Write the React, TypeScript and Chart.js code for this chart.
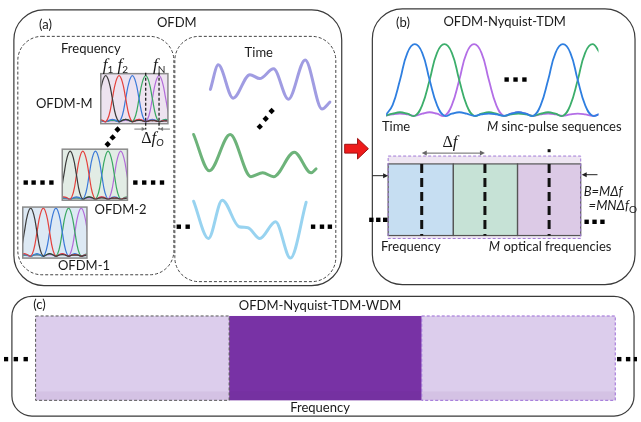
import React, { useEffect, useRef } from "react";
import { Chart, registerables } from "chart.js";
Chart.register(...registerables);

const CANVAS_W = 641;
const CANVAS_H = 422;

// ---------- Panel (a), time domain: waveform key points (figure units) ----------
const purpleWaveX = [209, 217, 232, 249, 259, 273, 288, 305, 322, 330];
const purpleWaveY = [87, 62, 96, 72, 76, 66, 97, 57, 107, 100];
const greenWaveX = [192, 208, 229, 250, 262, 273, 294, 311, 316];
const greenWaveY = [133, 170, 133, 176, 172, 176, 151, 172, 168];
const cyanWaveX = [192, 207, 221, 238, 247, 259, 275, 290, 306];
const cyanWaveY = [201, 239, 200, 227, 228, 239, 222, 259, 202];

// ---------- Panel (a), frequency domain: sub-carrier levels on a quarter-spacing grid ----------
const specBlack = [0, 0.14, 0.5, 0.86, 1, 0.86, 0.5, 0.14, 0, 0.03, 0.05, 0.03, 0, 0.02, 0.03, 0.02, 0, 0.02, 0.02, 0.02, 0, 0.01, 0.02, 0.01, 0];
const specRed = [0, 0.03, 0.05, 0.03, 0, 0.14, 0.5, 0.86, 1, 0.86, 0.5, 0.14, 0, 0.03, 0.05, 0.03, 0, 0.02, 0.03, 0.02, 0, 0.02, 0.02, 0.02, 0];
const specBlue = [0, 0.02, 0.03, 0.02, 0, 0.03, 0.05, 0.03, 0, 0.14, 0.5, 0.86, 1, 0.86, 0.5, 0.14, 0, 0.03, 0.05, 0.03, 0, 0.02, 0.03, 0.02, 0];
const specGreen = [0, 0.02, 0.02, 0.02, 0, 0.02, 0.03, 0.02, 0, 0.03, 0.05, 0.03, 0, 0.14, 0.5, 0.86, 1, 0.86, 0.5, 0.14, 0, 0.03, 0.05, 0.03, 0];
const specPurple = [0, 0.01, 0.02, 0.01, 0, 0.02, 0.02, 0.02, 0, 0.02, 0.03, 0.02, 0, 0.03, 0.05, 0.03, 0, 0.14, 0.5, 0.86, 1, 0.86, 0.5, 0.14, 0];
const specColors = ["#3b3b3b", "#e4413c", "#3b79d8", "#3aa862", "#b26bd9"];

// spectrum boxes: OFDM-M, OFDM-2, OFDM-1
const specBoxX0 = [98, 59, 19];
const specBoxY0 = [71, 148, 207];
const specBoxX1 = [166, 125, 84];
const specBoxY1 = [122, 200, 259];
const specFirstPeak = [103, 67, 27];
const specSpacing = [13.5, 12.8, 12.8];
const specBaseline = [120, 199, 257];
const specPeakY = [73, 150, 208];
const specFill = ["#ede3f0", "#e2ece5", "#dde9f4"];

// ---------- Panel (b): sinc-pulse sequences, levels on a grid of T/4 steps ----------
const pulseGridX0 = 386;
const pulseGridStep = 7.5;
const pulseBaseline = 114;
const pulseHeight = 73;
const pulseBlue = [0, 0.15, 0.5, 0.88, 1, 0.88, 0.5, 0.15, 0, 0.03, 0.05, 0.03, 0, 0.02, 0.03, 0.02, 0, 0.03, 0.05, 0.03, 0, 0.15, 0.5, 0.88, 1, 0.88, 0.5, 0.15, 0, 0.03];
const pulseGreen = [0, 0.03, 0.05, 0.03, 0, 0.15, 0.5, 0.88, 1, 0.88, 0.5, 0.15, 0, 0.03, 0.05, 0.03, 0, 0.02, 0.03, 0.02, 0, 0.03, 0.05, 0.03, 0, 0.15, 0.5, 0.88, 1, 0.88];
const pulsePurple = [0, 0.02, 0.03, 0.02, 0, 0.03, 0.05, 0.03, 0, 0.15, 0.5, 0.88, 1, 0.88, 0.5, 0.15, 0, 0.03, 0.05, 0.03, 0, 0.02, 0.03, 0.02, 0, 0.02, 0.03, 0.02, 0, 0.02];
const pulseColors = ["#2f7fe0", "#3cae6b", "#b36ee6"];
const pulseClipX = [387, 602];

// ---------- dots ----------
const squareDotX = [22, 30, 39, 48, 133, 142, 151, 160, 177, 186, 313, 322, 330, 509, 518, 527, 372, 379, 386, 590, 598, 606, 2, 12, 22, 623, 632, 640];
const squareDotY = [182, 182, 182, 182, 182, 182, 182, 182, 227, 227, 227, 227, 227, 77, 77, 77, 220, 220, 220, 222, 222, 222, 362, 362, 362, 362, 362, 362];
const diamondDotX = [105, 110, 115, 259, 265, 271];
const diamondDotY = [143, 136, 128, 125, 117, 109];

// ---------- frames ----------
const frameX0 = [10, 373, 8];
const frameY0 = [6, 5, 298];
const frameX1 = [342, 639, 638];
const frameY1 = [287, 286, 420];
const frameR = [30, 30, 20];
const dashFrameX0 = [14, 173];
const dashFrameY0 = [33, 33];
const dashFrameX1 = [172, 336];
const dashFrameY1 = [276, 283];

// panel (b) optical-frequency blocks
const tdmEdges = [389, 455, 520, 584];
const tdmFill = ["#c6def2", "#c6e2d6", "#dccae6"];
const tdmBoxY = [163, 236];
const tdmOuterY = [155, 239];
const tdmCarrierX = [423, 487, 552];

// panel (c) WDM blocks
const wdmEdges = [32, 228, 423, 619];
const wdmFill = ["#dccdec", "#7832a5", "#dccdec"];
const wdmY = [318, 404];

// red arrow outline
const redArrowX = [345, 358, 358, 369, 358, 358, 345];
const redArrowY = [143, 143, 137, 147.5, 158, 152, 152];

// ---------- labels ----------
const labelText = ["(a)", "OFDM", "Frequency", "Time", "OFDM-M", "OFDM-2", "OFDM-1", "(b)", "OFDM-Nyquist-TDM", "Time", "Frequency", "(c)", "OFDM-Nyquist-TDM-WDM", "Frequency"];
const labelX = [42, 175, 88, 258, 61, 118, 81, 404, 507, 397, 412, 36, 320, 320];
const labelY = [21, 19, 46, 50, 102, 210, 267, 19, 18, 125, 248, 307, 308, 412];

const SANS = "13px Lato";
const SANS_I = "italic 13px Lato";
const SERIF_I = "italic 17px 'Liberation Serif'";
const SUB = "10px Lato";
const SUB_I = "italic 10px Lato";
type Run = { t: string; font: string; dy?: number };
const richLabels: { x: number; y: number; runs: Run[] }[] = [
  { x: 100, y: 63, runs: [{ t: "f", font: SERIF_I }, { t: "1", font: SUB, dy: 4 }] },
  { x: 115, y: 63, runs: [{ t: "f", font: SERIF_I }, { t: "2", font: SUB, dy: 4 }] },
  { x: 151, y: 63, runs: [{ t: "f", font: SERIF_I }, { t: "N", font: SUB, dy: 4 }] },
  { x: 139, y: 137, runs: [{ t: "Δ", font: "16px 'Liberation Serif'" }, { t: "f", font: SERIF_I }, { t: "O", font: SUB_I, dy: 4 }] },
  { x: 444, y: 141, runs: [{ t: "Δ", font: "16px 'Liberation Serif'" }, { t: "f", font: SERIF_I }] },
  { x: 489, y: 125, runs: [{ t: "M", font: SANS_I }, { t: " sinc-pulse sequences", font: SANS }] },
  { x: 491, y: 248, runs: [{ t: "M", font: SANS_I }, { t: " optical frequencies", font: SANS }] },
  { x: 587, y: 191, runs: [{ t: "B=MΔf", font: SANS_I }] },
  { x: 592, y: 206, runs: [{ t: "=MNΔf", font: SANS_I }, { t: "O", font: SUB, dy: 4 }] },
];

function drawArrow(ctx: CanvasRenderingContext2D, x0: number, y0: number, x1: number, y1: number, head: number, color: string, width: number) {
  const a = Math.atan2(y1 - y0, x1 - x0);
  ctx.save();
  ctx.strokeStyle = color;
  ctx.fillStyle = color;
  ctx.lineWidth = width;
  ctx.beginPath();
  ctx.moveTo(x0, y0);
  ctx.lineTo(x1 - Math.cos(a) * head * 0.8, y1 - Math.sin(a) * head * 0.8);
  ctx.stroke();
  ctx.beginPath();
  ctx.moveTo(x1, y1);
  ctx.lineTo(x1 - head * Math.cos(a) + head * 0.5 * Math.sin(a), y1 - head * Math.sin(a) - head * 0.5 * Math.cos(a));
  ctx.lineTo(x1 - head * Math.cos(a) - head * 0.5 * Math.sin(a), y1 - head * Math.sin(a) + head * 0.5 * Math.cos(a));
  ctx.closePath();
  ctx.fill();
  ctx.restore();
}

const diagramPlugin = {
  id: "diagram",
  beforeDraw(chart: any) {
    const ctx = chart.ctx;
    ctx.save();
    ctx.fillStyle = "#ffffff";
    ctx.fillRect(0, 0, chart.width, chart.height);
    ctx.restore();
  },
  beforeDatasetsDraw(chart: any) {
    const ctx: CanvasRenderingContext2D = chart.ctx;
    const X = (v: number) => chart.scales.x.getPixelForValue(v);
    const Y = (v: number) => chart.scales.y.getPixelForValue(v);
    ctx.save();
    // solid panel frames
    ctx.strokeStyle = "#3a3a3a";
    ctx.lineWidth = 1.2;
    for (let i = 0; i < frameX0.length; i++) {
      ctx.beginPath();
      ctx.roundRect(X(frameX0[i]), Y(frameY0[i]), X(frameX1[i]) - X(frameX0[i]), Y(frameY1[i]) - Y(frameY0[i]), frameR[i]);
      ctx.stroke();
    }
    // dashed sub-frames in (a)
    ctx.setLineDash([3, 2]);
    ctx.lineWidth = 1;
    ctx.strokeStyle = "#444";
    for (let i = 0; i < dashFrameX0.length; i++) {
      ctx.beginPath();
      ctx.roundRect(X(dashFrameX0[i]), Y(dashFrameY0[i]), X(dashFrameX1[i]) - X(dashFrameX0[i]), Y(dashFrameY1[i]) - Y(dashFrameY0[i]), 24);
      ctx.stroke();
    }
    ctx.setLineDash([]);
    // spectrum box fills
    for (let b = 0; b < specBoxX0.length; b++) {
      ctx.fillStyle = specFill[b];
      ctx.fillRect(X(specBoxX0[b]), Y(specBoxY0[b]), X(specBoxX1[b]) - X(specBoxX0[b]), Y(specBoxY1[b]) - Y(specBoxY0[b]));
    }
    // panel (b) blocks
    const ox0 = X(tdmEdges[0]), ox1 = X(tdmEdges[3]);
    ctx.fillStyle = "#eee6f2";
    ctx.fillRect(ox0, Y(tdmOuterY[0]), ox1 - ox0, Y(tdmOuterY[1]) - Y(tdmOuterY[0]));
    for (let i = 0; i < 3; i++) {
      ctx.fillStyle = tdmFill[i];
      ctx.fillRect(X(tdmEdges[i]), Y(tdmBoxY[0]), X(tdmEdges[i + 1]) - X(tdmEdges[i]), Y(tdmBoxY[1]) - Y(tdmBoxY[0]));
    }
    ctx.strokeStyle = "#555";
    ctx.lineWidth = 1.2;
    for (let i = 0; i < 3; i++) {
      ctx.strokeRect(X(tdmEdges[i]), Y(tdmBoxY[0]), X(tdmEdges[i + 1]) - X(tdmEdges[i]), Y(tdmBoxY[1]) - Y(tdmBoxY[0]));
    }
    ctx.setLineDash([3, 2]);
    ctx.strokeStyle = "#a27ad8";
    ctx.lineWidth = 1;
    ctx.strokeRect(ox0, Y(tdmOuterY[0]), ox1 - ox0, Y(tdmOuterY[1]) - Y(tdmOuterY[0]));
    ctx.setLineDash([]);
    // panel (c) blocks
    for (let i = 0; i < 3; i++) {
      ctx.fillStyle = wdmFill[i];
      ctx.fillRect(X(wdmEdges[i]), Y(wdmY[0]), X(wdmEdges[i + 1]) - X(wdmEdges[i]), Y(wdmY[1]) - Y(wdmY[0]));
    }
    ctx.fillStyle = "rgba(80,30,110,0.06)";
    ctx.fillRect(X(wdmEdges[0]), Y(395), X(wdmEdges[3]) - X(wdmEdges[0]), Y(wdmY[1]) - Y(395));
    ctx.setLineDash([3, 2]);
    ctx.lineWidth = 1;
    ctx.strokeStyle = "#555";
    ctx.strokeRect(X(wdmEdges[0]), Y(wdmY[0]), X(wdmEdges[1]) - X(wdmEdges[0]), Y(wdmY[1]) - Y(wdmY[0]));
    ctx.strokeStyle = "#9b6bd6";
    ctx.strokeRect(X(wdmEdges[2]), Y(wdmY[0]), X(wdmEdges[3]) - X(wdmEdges[2]), Y(wdmY[1]) - Y(wdmY[0]));
    ctx.setLineDash([]);
    // red arrow
    ctx.beginPath();
    for (let i = 0; i < redArrowX.length; i++) {
      if (i === 0) ctx.moveTo(X(redArrowX[i]), Y(redArrowY[i]));
      else ctx.lineTo(X(redArrowX[i]), Y(redArrowY[i]));
    }
    ctx.closePath();
    ctx.fillStyle = "#ee1b1b";
    ctx.fill();
    ctx.strokeStyle = "#a01010";
    ctx.lineWidth = 1;
    ctx.stroke();
    ctx.restore();
  },
  beforeDatasetDraw(chart: any, args: any) {
    const ds = chart.data.datasets[args.index];
    if (ds && ds.clipBox) {
      const X = (v: number) => chart.scales.x.getPixelForValue(v);
      const Y = (v: number) => chart.scales.y.getPixelForValue(v);
      const [x0, y0, x1, y1] = ds.clipBox;
      chart.ctx.save();
      chart.ctx.beginPath();
      chart.ctx.rect(X(x0), Y(y0), X(x1) - X(x0), Y(y1) - Y(y0));
      chart.ctx.clip();
    }
  },
  afterDatasetDraw(chart: any, args: any) {
    const ds = chart.data.datasets[args.index];
    if (ds && ds.clipBox) chart.ctx.restore();
  },
  afterDatasetsDraw(chart: any) {
    const ctx: CanvasRenderingContext2D = chart.ctx;
    const X = (v: number) => chart.scales.x.getPixelForValue(v);
    const Y = (v: number) => chart.scales.y.getPixelForValue(v);
    ctx.save();
    // spectrum box borders
    ctx.strokeStyle = "#8a8a8a";
    ctx.lineWidth = 1.5;
    for (let b = 0; b < specBoxX0.length; b++) {
      ctx.strokeRect(X(specBoxX0[b]), Y(specBoxY0[b]), X(specBoxX1[b]) - X(specBoxX0[b]), Y(specBoxY1[b]) - Y(specBoxY0[b]));
    }
    // dashed markers in OFDM-M box
    ctx.setLineDash([3, 2]);
    ctx.strokeStyle = "#111";
    ctx.lineWidth = 1.2;
    const mk = [specFirstPeak[0] + 3 * specSpacing[0], specFirstPeak[0] + 4 * specSpacing[0]];
    for (const m of mk) {
      ctx.beginPath();
      ctx.moveTo(X(m), Y(70));
      ctx.lineTo(X(m), Y(128));
      ctx.stroke();
    }
    ctx.setLineDash([]);
    drawArrow(ctx, X(132), Y(127.5), X(mk[0]), Y(127.5), 4, "#777", 1);
    drawArrow(ctx, X(168), Y(127.5), X(mk[1]), Y(127.5), 4, "#777", 1);
    // thick dashed carriers in (b)
    ctx.setLineDash([9, 5]);
    ctx.strokeStyle = "#111";
    ctx.lineWidth = 3;
    for (const c of tdmCarrierX) {
      ctx.beginPath();
      ctx.moveTo(X(c), Y(163));
      ctx.lineTo(X(c), Y(236));
      ctx.stroke();
    }
    ctx.setLineDash([]);
    ctx.fillStyle = "#111";
    ctx.fillRect(X(tdmCarrierX[2]) - 1.5, Y(148), 3, 3);
    // Δf arrow
    drawArrow(ctx, X(455), Y(152), X(tdmCarrierX[0]), Y(152), 5, "#666", 1);
    drawArrow(ctx, X(455), Y(152), X(tdmCarrierX[1]), Y(152), 5, "#666", 1);
    // side arrows (b)
    drawArrow(ctx, X(373), Y(175), X(389), Y(175), 5, "#222", 1);
    drawArrow(ctx, X(601), Y(174), X(585), Y(174), 5, "#222", 1);
    // labels
    ctx.fillStyle = "#1a1a1a";
    ctx.textBaseline = "middle";
    ctx.textAlign = "center";
    ctx.font = SANS;
    for (let i = 0; i < labelText.length; i++) {
      ctx.fillText(labelText[i], X(labelX[i]), Y(labelY[i]));
    }
    ctx.textAlign = "left";
    for (const lab of richLabels) {
      let cx = X(lab.x);
      for (const r of lab.runs) {
        ctx.font = r.font;
        ctx.fillText(r.t, cx, Y(lab.y + (r.dy || 0)));
        cx += ctx.measureText(r.t).width;
      }
    }
    ctx.restore();
  },
};

export default function App() {
  const ref = useRef<HTMLCanvasElement>(null);
  useEffect(() => {
    const canvas = ref.current;
    if (!canvas) return;
    const lineCommon = {
      showLine: true,
      pointRadius: 0,
      pointHoverRadius: 0,
      fill: false,
      cubicInterpolationMode: "monotone",
      borderCapStyle: "round",
      borderJoinStyle: "round",
    };
    const smoothCommon = { ...lineCommon, cubicInterpolationMode: "default", tension: 0.45 };
    const pts = (xs: number[], ys: number[]) => xs.map((x, i) => ({ x, y: ys[i] }));
    const datasets: any[] = [];
    // square dots
    datasets.push({
      data: pts(squareDotX, squareDotY),
      showLine: false,
      pointStyle: "rect",
      pointRadius: 3.1,
      pointBackgroundColor: "#000",
      pointBorderWidth: 0,
    });
    datasets.push({
      data: pts(diamondDotX, diamondDotY),
      showLine: false,
      pointStyle: "rectRot",
      pointRadius: 3.2,
      pointBackgroundColor: "#000",
      pointBorderWidth: 0,
    });
    // time-domain waves
    datasets.push({ ...lineCommon, data: pts(purpleWaveX, purpleWaveY), borderColor: "#a09ce2", borderWidth: 3 });
    datasets.push({ ...lineCommon, data: pts(greenWaveX, greenWaveY), borderColor: "#6db37a", borderWidth: 3 });
    datasets.push({ ...lineCommon, data: pts(cyanWaveX, cyanWaveY), borderColor: "#98d3f0", borderWidth: 3 });
    // spectra
    const specLevels = [specBlack, specRed, specBlue, specGreen, specPurple];
    for (let b = 0; b < specBoxX0.length; b++) {
      const h = specBaseline[b] - specPeakY[b];
      specLevels.forEach((lv, c) => {
        datasets.push({
          ...smoothCommon,
          data: lv.map((v, i) => ({ x: specFirstPeak[b] + ((i - 4) * specSpacing[b]) / 4, y: specBaseline[b] - v * h })),
          borderColor: specColors[c],
          borderWidth: 1.2,
          clipBox: [specBoxX0[b], specBoxY0[b], specBoxX1[b], specBoxY1[b]],
        });
      });
    }
    // sinc pulses
    [pulseBlue, pulseGreen, pulsePurple].forEach((lv, c) => {
      datasets.push({
        ...smoothCommon,
        data: lv.map((v, i) => ({ x: pulseGridX0 + i * pulseGridStep, y: pulseBaseline - v * pulseHeight })),
        borderColor: pulseColors[c],
        borderWidth: 1.8,
        clipBox: [pulseClipX[0], 0, pulseClipX[1], CANVAS_H],
      });
    });

    const chart = new Chart(canvas, {
      type: "line",
      data: { datasets },
      options: {
        responsive: false,
        maintainAspectRatio: false,
        animation: false,
        events: [],
        layout: { padding: 0 },
        plugins: { legend: { display: false }, tooltip: { enabled: false } },
        scales: {
          x: { type: "linear", min: 0, max: CANVAS_W, display: false },
          y: { type: "linear", min: 0, max: CANVAS_H, reverse: true, display: false },
        },
      } as any,
      plugins: [diagramPlugin as any],
    });
    return () => chart.destroy();
  }, []);
  return (
    <div style={{ position: "absolute", left: 0, top: 0, width: CANVAS_W, height: CANVAS_H }}>
      <canvas ref={ref} width={CANVAS_W} height={CANVAS_H} style={{ display: "block" }} />
    </div>
  );
}
